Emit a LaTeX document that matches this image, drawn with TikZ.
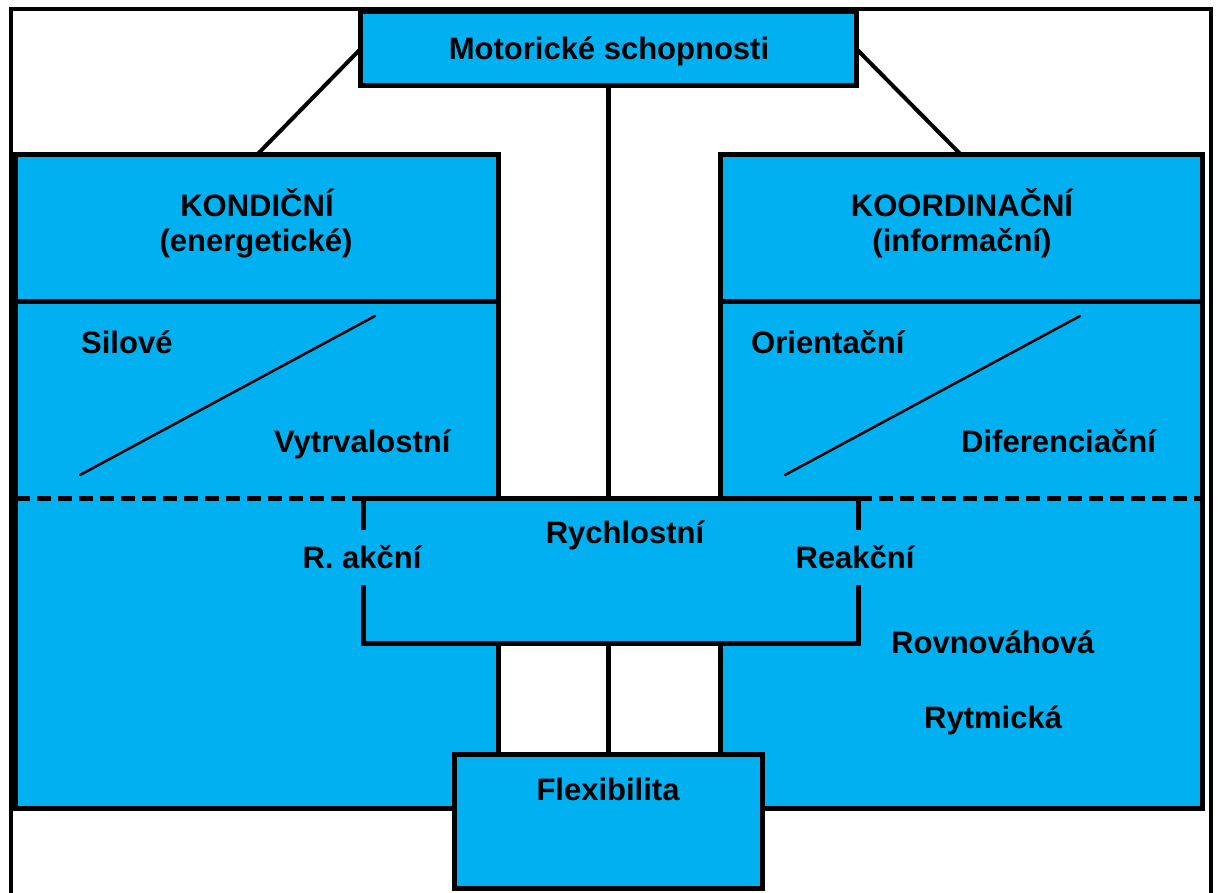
\documentclass[tikz,border=0pt]{standalone}
\usepackage{fontspec}
\setmainfont{Liberation Sans}
\usetikzlibrary{backgrounds}
\definecolor{boxblue}{RGB}{0,176,240}
\begin{document}
\begin{tikzpicture}[x=1pt,y=-1pt,
  box/.style={draw, line width=5pt, fill=boxblue, rectangle, inner sep=0pt, outer sep=0pt},
  lbl/.style={font=\bfseries\fontsize{31}{36}\selectfont, inner sep=0pt, text=black},
  gaplbl/.style={lbl, fill=boxblue, text height=26pt, text depth=5pt, inner ysep=12pt, inner xsep=1pt},
  conn/.style={line width=4pt, line cap=round},
  diag/.style={line width=2.5pt, line cap=round},
  sepline/.style={line width=5pt, dash pattern=on 14pt off 7pt}]
\useasboundingbox (0,0) rectangle (1218,893);

% boxes
\node[box, minimum width=495.5pt, minimum height=73.5pt] (mot) at (608.5,48.75) {};
\node[box, minimum width=482.5pt, minimum height=506pt] (kondb) at (256.75,555) {};
\node[box, minimum width=482.5pt, minimum height=147pt] (kondh) at (256.75,228.5) {};
\node[box, minimum width=482.5pt, minimum height=506pt] (koordb) at (961.25,555) {};
\node[box, minimum width=482.5pt, minimum height=147pt] (koordh) at (961.25,228.5) {};
\node[box, minimum width=495pt, minimum height=145pt] (rych) at (610.5,570.5) {};
\node[box, minimum width=307.5pt, minimum height=134pt] (flex) at (608.5,821) {};

% background: frame and central line
\begin{pgfonlayer}{background}
  \draw[line width=4pt] (10.5,900) -- (10.5,9.5) -- (1210.5,9.5) -- (1210.5,900);
  \draw[line width=4.5pt] (mot.south) -- (flex.north);
\end{pgfonlayer}

% connectors
\draw[conn] (mot.west) -- (kondh.north);
\draw[conn] (mot.east) -- (koordh.north);

% dashed separators
\draw[sepline] (kondb.west |- rych.north) -- (rych.north west);
\draw[sepline] (rych.north east) -- (koordb.east |- rych.north);

% diagonal lines
\draw[diag] (80,475) -- (375,316);
\draw[diag] (785,475) -- (1080,316);

% labels
\node[lbl, anchor=base] (tmot) at (609,60) {Motorické schopnosti};
\node[lbl, anchor=base] (tkond1) at (257,217) {KONDIČNÍ};
\node[lbl, anchor=base] (tkond2) at (256,252) {(energetické)};
\node[lbl, anchor=base] (tkoord1) at (962,217) {KOORDINAČNÍ};
\node[lbl, anchor=base] (tkoord2) at (962,252) {(informační)};
\node[lbl, anchor=base west] (tsil) at (81,353) {Silové};
\node[lbl, anchor=base west] (tvyt) at (274,452) {Vytrvalostní};
\node[lbl, anchor=base west] (tori) at (751,353) {Orientační};
\node[lbl, anchor=base west] (tdif) at (961,452) {Diferenciační};
\node[lbl, anchor=base] (trych) at (625,543) {Rychlostní};
\node[gaplbl, anchor=base] (takc) at (362,568) {R. akční};
\node[gaplbl, anchor=base] (treak) at (855,568) {Reakční};
\node[lbl, anchor=base west] (trov) at (891,653) {Rovnováhová};
\node[lbl, anchor=base west] (tryt) at (924,728) {Rytmická};
\node[lbl, anchor=base] (tflex) at (608,800) {Flexibilita};
\end{tikzpicture}
\end{document}
